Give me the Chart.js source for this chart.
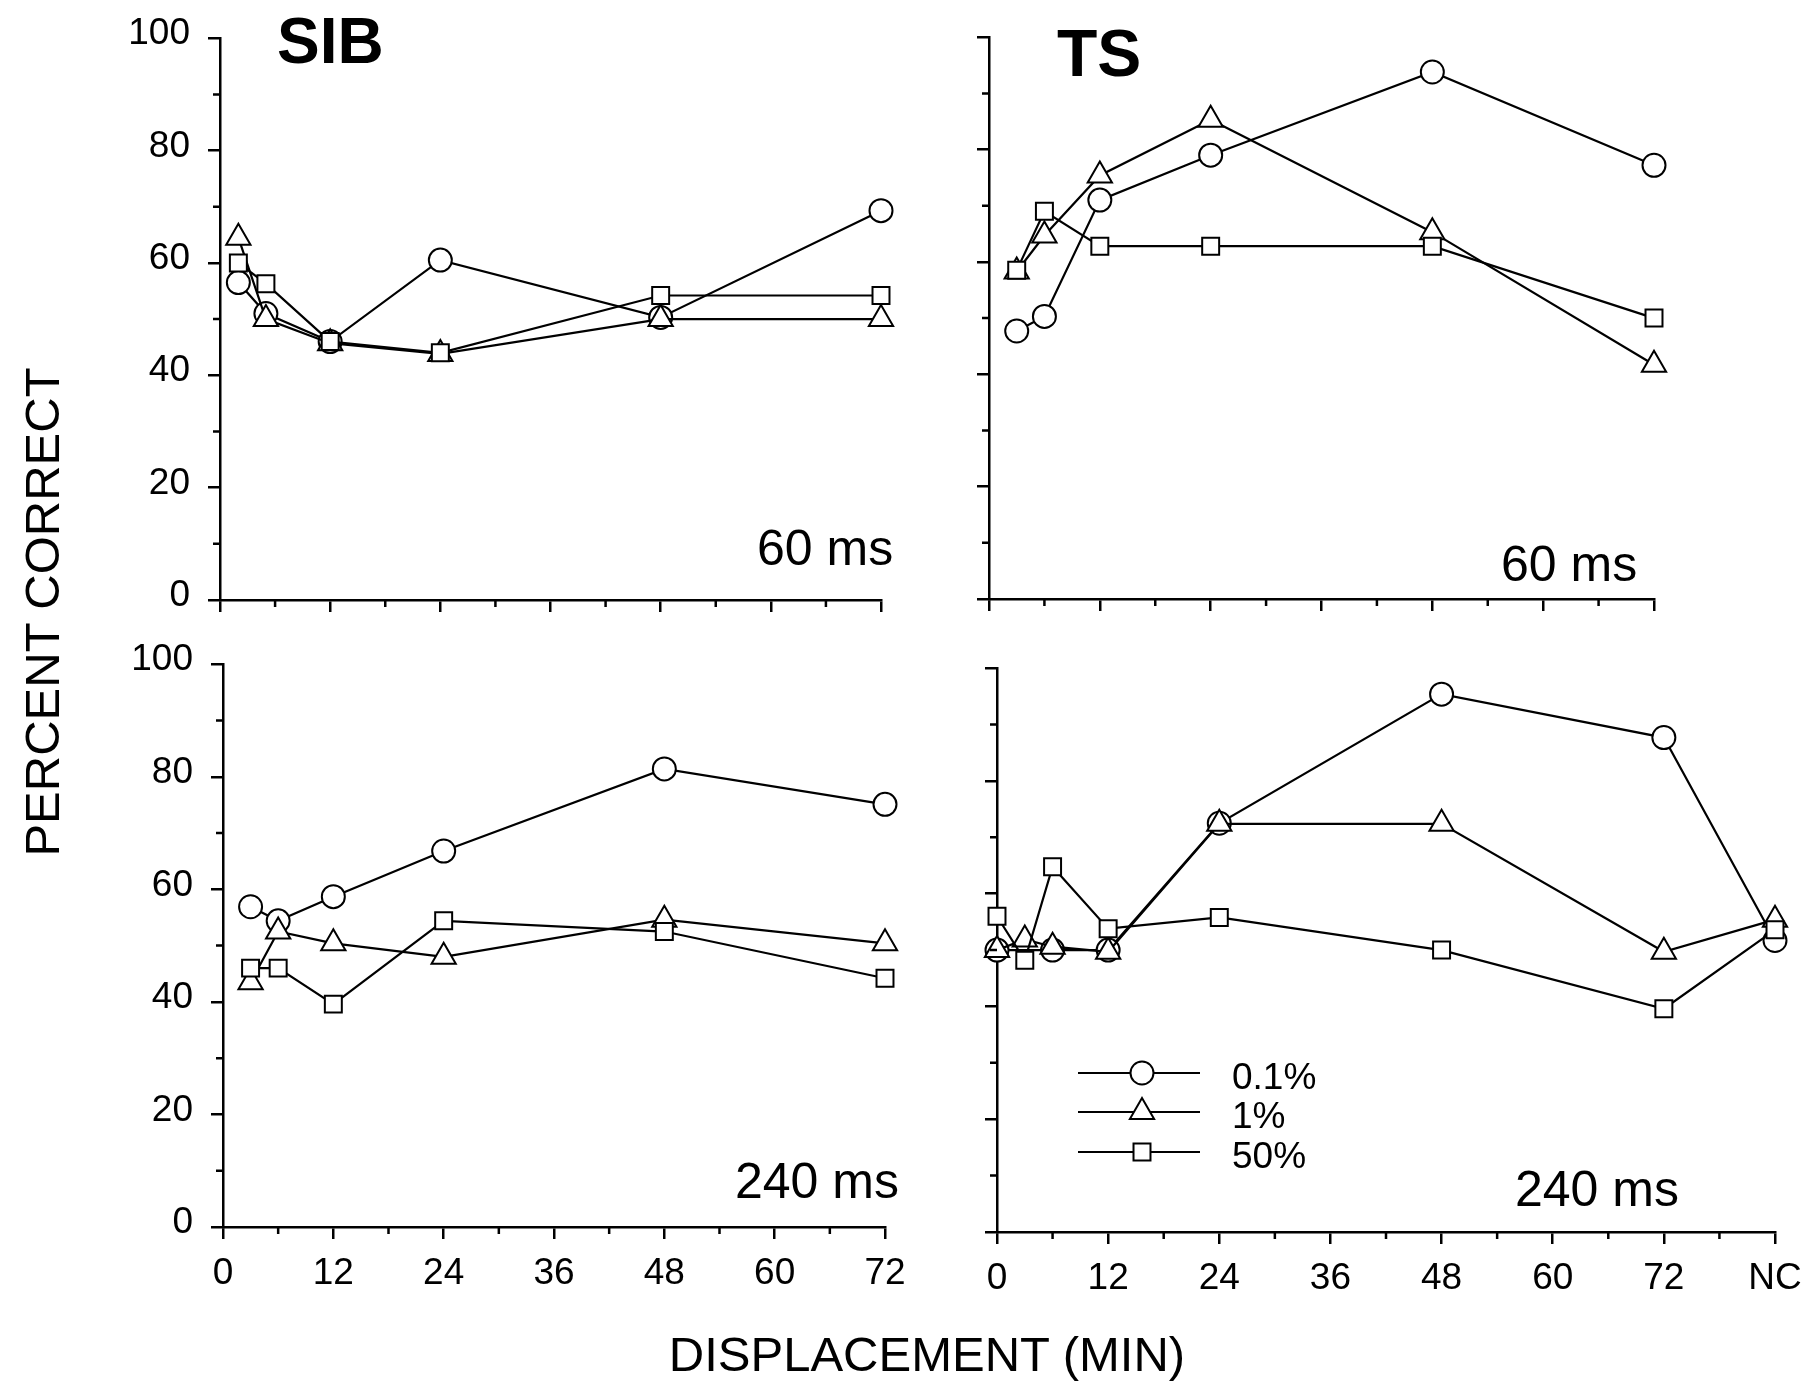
<!DOCTYPE html>
<html>
<head>
<meta charset="utf-8">
<script src="https://cdn.jsdelivr.net/npm/chart.js@4.4.1/dist/chart.umd.min.js"></script>
<style>
html,body{margin:0;padding:0;background:#fff;}
body{width:1814px;height:1388px;position:relative;overflow:hidden;font-family:"Liberation Sans",Arial,Helvetica,sans-serif;color:#000;}
canvas{position:absolute;}
.lbl{position:absolute;line-height:1;white-space:nowrap;}
.big{font-weight:bold;}
.ms{font-size:50px;}
.title{font-size:49px;}
</style>
</head>
<body>
<canvas id="sib60"></canvas>
<canvas id="ts60"></canvas>
<canvas id="sib240"></canvas>
<canvas id="ts240"></canvas>

<div class="lbl big" style="left:277px;top:9px;font-size:64px;">SIB</div>
<div class="lbl big" style="left:1057px;top:20px;font-size:66px;">TS</div>
<div class="lbl ms" style="left:757px;top:523px;">60 ms</div>
<div class="lbl ms" style="left:1501px;top:539px;">60 ms</div>
<div class="lbl ms" style="left:735px;top:1156px;">240 ms</div>
<div class="lbl ms" style="left:1515px;top:1164px;">240 ms</div>
<div class="lbl title" style="left:42px;top:612px;transform:translate(-50%,-50%) rotate(-90deg);">PERCENT CORRECT</div>
<div class="lbl title" style="left:927px;top:1354px;transform:translate(-50%,-50%);">DISPLACEMENT (MIN)</div>

<script>
// values (percent correct vs displacement in min)
// series: 0.1% (circles), 1% (triangles), 50% (squares)

// SIB, 60 ms
const sib60X      = [2, 5, 12, 24, 48, 72];
const sib60Circle = [56.5, 51, 46, 60.5, 50.3, 69.3];
const sib60Tri    = [64.5, 50, 45.7, 43.8, 50, 50];
const sib60Sq     = [60, 56.3, 46, 44, 54.2, 54.2];

// TS, 60 ms
const ts60X      = [3, 6, 12, 24, 48, 72];
const ts60Circle = [47.7, 50.3, 71, 79, 93.8, 77.2];
const ts60Tri    = [58.3, 64.7, 75.4, 85.3, 65.3, 41.7];
const ts60Sq     = [58.5, 69, 62.8, 62.8, 62.8, 50];

// SIB, 240 ms
const sib240X      = [3, 6, 12, 24, 48, 72];
const sib240Circle = [56.9, 54.4, 58.7, 66.8, 81.4, 75.1];
const sib240Tri    = [43.5, 52.5, 50.4, 48, 54.6, 50.4];
const sib240Sq     = [46, 46, 39.6, 54.4, 52.5, 44.2];

// TS, 240 ms (84 = NC)
const ts240X       = [0, 3, 6, 12, 24, 48, 72, 84];
const ts240CircleX = [0, 6, 12, 24, 48, 72, 84];
const ts240Circle  = [50, 50, 50, 72.5, 95.4, 87.7, 51.7];
const ts240Tri     = [50, 51.9, 50.6, 49.7, 72.4, 72.4, 49.7, 55.4];
const ts240Sq      = [56, 48.2, 64.8, 53.8, 55.8, 50, 39.6, 53.6];

// axes
const yMax = 100, yStep = 20, yMinorStep = 10;
const xStep = 12, xMinorStep = 6;
const ncValue = 84, ncLabel = 'NC';
const seriesNames = ['0.1%', '1%', '50%'];

// --- layout helpers ---
const WY = 110, HX = 72;
const PAD = {l: 5, t: 40, r: 45, b: 5};
const TICK = 12, MINOR = 7;
const FONT = '"Liberation Sans", Arial, Helvetica, sans-serif';

const pts = (xs, ys) => xs.map((x, i) => ({x, y: ys[i]}));

const markers = {
  circle: {pointStyle: 'circle', pointRadius: 11.5},
  triangle: {pointStyle: 'triangle', pointRadius: 14},
  rect: {pointStyle: 'rect', pointRadius: 12}
};

function ds(data, m){
  return Object.assign({
    data, showLine: true, tension: 0, clip: false,
    borderColor: '#000', borderWidth: 2.2,
    pointBackgroundColor: '#fff', pointBorderColor: '#000', pointBorderWidth: 2
  }, markers[m]);
}

// minor tick marks (every 10 on y, every 6 on x)
const minorTicks = {
  id: 'minorTicks',
  afterDraw(chart){
    const {ctx, scales: {x, y}} = chart;
    ctx.save();
    ctx.strokeStyle = '#000'; ctx.lineWidth = 2.5;
    ctx.beginPath();
    for(let v = yMinorStep; v < yMax; v += yStep){
      const py = y.getPixelForValue(v);
      ctx.moveTo(y.right - MINOR, py); ctx.lineTo(y.right, py);
    }
    for(let v = xMinorStep; v < x.max; v += xStep){
      const px = x.getPixelForValue(v);
      ctx.moveTo(px, x.top); ctx.lineTo(px, x.top + MINOR);
    }
    ctx.stroke();
    ctx.restore();
  }
};

function drawMarker(ctx, style, x, y){
  ctx.beginPath();
  if(style === 'circle'){
    ctx.arc(x, y, 11.5, 0, Math.PI*2);
  } else if(style === 'triangle'){
    const r = 14;
    for(let k = 0; k < 3; k++){
      const a = k * 2*Math.PI/3;
      const px = x + Math.sin(a)*r, py = y - Math.cos(a)*r;
      k ? ctx.lineTo(px, py) : ctx.moveTo(px, py);
    }
    ctx.closePath();
  } else {
    const s = 12 * Math.SQRT1_2;
    ctx.rect(x - s, y - s, 2*s, 2*s);
  }
  ctx.fillStyle = '#fff'; ctx.fill();
  ctx.lineWidth = 2; ctx.strokeStyle = '#000'; ctx.stroke();
}

// legend in the TS 240 ms panel (page coordinates)
const legendBox = {x1: 1078, x2: 1200, mark: 1142, text: 1232, rows: [1073, 1112, 1152]};
function legendPlugin(canvasLeft, canvasTop){
  return {
    id: 'figLegend',
    afterDraw(chart){
      const ctx = chart.ctx;
      const styles = ['circle', 'triangle', 'rect'];
      ctx.save();
      ctx.font = '37px ' + FONT;
      ctx.textBaseline = 'middle';
      legendBox.rows.forEach((py, i) => {
        const y = py - canvasTop;
        ctx.beginPath();
        ctx.moveTo(legendBox.x1 - canvasLeft, y); ctx.lineTo(legendBox.x2 - canvasLeft, y);
        ctx.lineWidth = 2; ctx.strokeStyle = '#000'; ctx.stroke();
        drawMarker(ctx, styles[i], legendBox.mark - canvasLeft, y);
        ctx.fillStyle = '#000';
        ctx.fillText(seriesNames[i], legendBox.text - canvasLeft, y + 6);
      });
      ctx.restore();
    }
  };
}

function panel(id, area, cfg){
  const cv = document.getElementById(id);
  const left = area.l - WY - PAD.l, top = area.t - PAD.t;
  cv.width = area.r - area.l + WY + PAD.l + PAD.r;
  cv.height = area.b - area.t + HX + PAD.t + PAD.b;
  cv.style.left = left + 'px';
  cv.style.top = top + 'px';

  const axisCommon = {
    type: 'linear',
    border: {display: true, color: '#000', width: 2.5},
    grid: {display: true, drawOnChartArea: false, drawTicks: true, tickLength: TICK, color: '#000', lineWidth: 2.5}
  };
  const plugins = [minorTicks];
  if(cfg.legend) plugins.push(legendPlugin(left, top));

  new Chart(cv, {
    type: 'line',
    data: {datasets: cfg.datasets},
    options: {
      responsive: false,
      animation: false,
      events: [],
      layout: {padding: {left: PAD.l, top: PAD.t, right: PAD.r, bottom: PAD.b}},
      plugins: {legend: {display: false}, tooltip: {enabled: false}},
      scales: {
        x: Object.assign({}, axisCommon, {
          min: 0, max: cfg.xMax,
          afterFit: s => { s.height = HX; },
          ticks: {
            stepSize: xStep, padding: 13, color: '#000',
            font: {family: FONT, size: 37},
            callback: v => cfg.xLabels ? (v === ncValue ? ncLabel : String(v)) : ''
          }
        }),
        y: Object.assign({}, axisCommon, {
          min: 0, max: yMax,
          afterFit: s => { s.width = WY; },
          ticks: {
            stepSize: yStep, padding: 18, labelOffset: -4, color: '#000',
            font: {family: FONT, size: 37},
            callback: v => cfg.yLabels ? String(v) : ''
          }
        })
      }
    },
    plugins
  });
}

// order: squares on top, then triangles, then circles
panel('sib60', {l: 220, r: 881, t: 38, b: 600}, {
  xMax: 72, yLabels: true, xLabels: false,
  datasets: [ds(pts(sib60X, sib60Sq), 'rect'), ds(pts(sib60X, sib60Tri), 'triangle'), ds(pts(sib60X, sib60Circle), 'circle')]
});
panel('ts60', {l: 989, r: 1654, t: 37, b: 599}, {
  xMax: 72, yLabels: false, xLabels: false,
  datasets: [ds(pts(ts60X, ts60Sq), 'rect'), ds(pts(ts60X, ts60Tri), 'triangle'), ds(pts(ts60X, ts60Circle), 'circle')]
});
panel('sib240', {l: 223, r: 885, t: 664, b: 1227}, {
  xMax: 72, yLabels: true, xLabels: true,
  datasets: [ds(pts(sib240X, sib240Sq), 'rect'), ds(pts(sib240X, sib240Tri), 'triangle'), ds(pts(sib240X, sib240Circle), 'circle')]
});
panel('ts240', {l: 997, r: 1775, t: 668, b: 1232}, {
  xMax: ncValue, yLabels: false, xLabels: true, legend: true,
  datasets: [ds(pts(ts240X, ts240Sq), 'rect'), ds(pts(ts240X, ts240Tri), 'triangle'), ds(pts(ts240CircleX, ts240Circle), 'circle')]
});
</script>
</body>
</html>
